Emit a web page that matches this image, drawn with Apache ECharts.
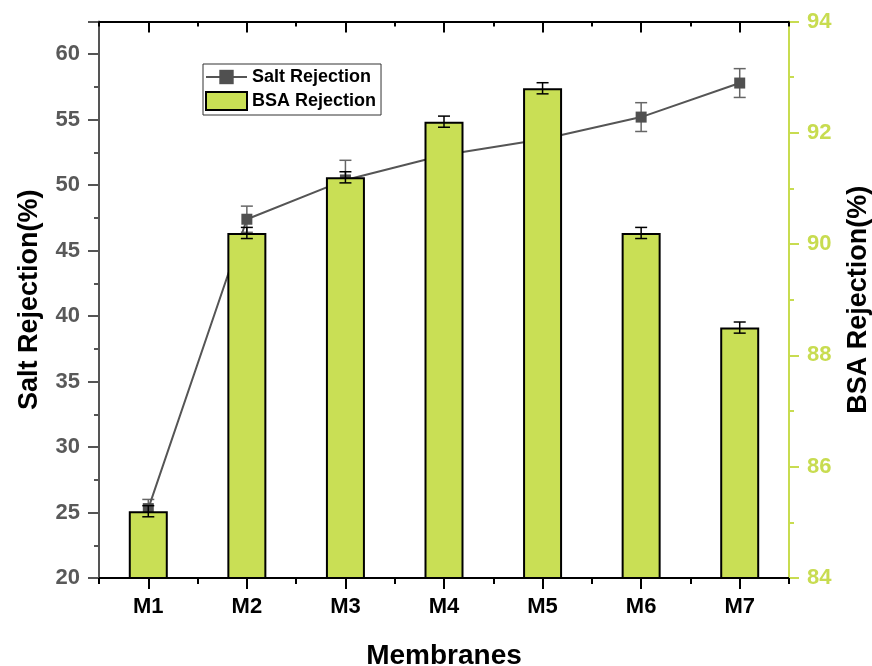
<!DOCTYPE html>
<html>
<head>
<meta charset="utf-8">
<script src="https://cdn.jsdelivr.net/npm/echarts@6/dist/echarts.min.js"></script>
<style>
html,body{margin:0;padding:0;background:#fff;}
#chart{width:872px;height:666px;}
</style>
</head>
<body>
<div id="chart"></div>
<script>
const categories = ['M1', 'M2', 'M3', 'M4', 'M5', 'M6', 'M7'];
const saltRejection = [25.3, 47.4, 50.4, 52.3, 53.5, 55.2, 57.8];
const saltError = [0.7, 1.0, 1.5, 1.0, 1.0, 1.1, 1.1];
const bsaRejection = [85.2, 90.2, 91.2, 92.2, 92.8, 90.2, 88.5];
const bsaError = [0.1, 0.1, 0.1, 0.1, 0.1, 0.1, 0.1];
const leftTicks = [20, 25, 30, 35, 40, 45, 50, 55, 60];
const rightTicks = [84, 86, 88, 90, 92, 94];

const FONT = '"Liberation Sans", Arial, sans-serif';
const GREEN = '#c8dc50';
const BAR = '#c9df55';

const saltErrData = categories.map((c, i) => [i, saltRejection[i] - saltError[i], saltRejection[i] + saltError[i]]);
const bsaErrData = categories.map((c, i) => [i, bsaRejection[i] - bsaError[i], bsaRejection[i] + bsaError[i]]);

function errRender(color) {
  return function (params, api) {
    const x = api.value(0);
    const lo = api.coord([x, api.value(1)]);
    const hi = api.coord([x, api.value(2)]);
    const h = 6;
    const st = { stroke: color, lineWidth: 1.5 };
    return {
      type: 'group',
      children: [
        { type: 'line', shape: { x1: lo[0], y1: lo[1], x2: hi[0], y2: hi[1] }, style: st },
        { type: 'line', shape: { x1: hi[0] - h, y1: hi[1], x2: hi[0] + h, y2: hi[1] }, style: st },
        { type: 'line', shape: { x1: lo[0] - h, y1: lo[1], x2: lo[0] + h, y2: lo[1] }, style: st }
      ]
    };
  };
}

const chart = echarts.init(document.getElementById('chart'), null, { renderer: 'canvas' });
const option = {
  animation: false,
  backgroundColor: '#fff',
  textStyle: { fontFamily: FONT },
  grid: { left: 99, right: 83, top: 21.5, bottom: 88, containLabel: false, outerBoundsMode: 'none' },
  legend: {
    orient: 'vertical',
    left: 203, top: 64,
    padding: [4, 5, 4, 2],
    itemWidth: 41, itemHeight: 18, itemGap: 5,
    borderColor: '#333', borderWidth: 1,
    textStyle: { fontFamily: FONT, fontWeight: 'bold', fontSize: 18, color: '#000' },
    data: [{ name: 'Salt Rejection' }, { name: 'BSA Rejection', icon: 'rect' }]
  },
  xAxis: [
    {
      type: 'category', data: categories, position: 'bottom', boundaryGap: true,
      axisLine: { show: true, onZero: false, lineStyle: { color: '#000', width: 2 } },
      axisTick: { show: true, alignWithLabel: true, length: 11, lineStyle: { color: '#000', width: 2 } },
      axisLabel: { margin: 18, fontFamily: FONT, fontWeight: 'bold', fontSize: 22, color: '#000' },
      splitLine: { show: false },
      name: 'Membranes', nameLocation: 'middle', nameGap: 64,
      nameTextStyle: { fontFamily: FONT, fontWeight: 'bold', fontSize: 28, color: '#000' }
    },
    {
      type: 'value', min: 0, max: 7, interval: 1, position: 'bottom',
      axisLine: { show: false, onZero: false },
      axisTick: { show: true, length: 6, lineStyle: { color: '#000', width: 2 } },
      axisLabel: { show: false }, splitLine: { show: false }
    },
    {
      type: 'category', data: categories, position: 'top', boundaryGap: true,
      axisLine: { show: true, onZero: false, lineStyle: { color: '#000', width: 2 } },
      axisTick: { show: true, inside: true, alignWithLabel: true, length: 11, lineStyle: { color: '#000', width: 2 } },
      axisLabel: { show: false }, splitLine: { show: false }
    },
    {
      type: 'value', min: 0, max: 7, interval: 1, position: 'top',
      axisLine: { show: false, onZero: false },
      axisTick: { show: true, inside: true, length: 5, lineStyle: { color: '#000', width: 2 } },
      axisLabel: { show: false }, splitLine: { show: false }
    }
  ],
  yAxis: [
    {
      type: 'value', min: 20, max: 62.5, interval: 5, position: 'left',
      axisLine: { show: true, onZero: false, lineStyle: { color: '#555', width: 2 } },
      axisTick: { show: true, length: 11, lineStyle: { color: '#555', width: 2 } },
      minorTick: { show: true, splitNumber: 2, length: 5, lineStyle: { color: '#555', width: 2 } },
      axisLabel: {
        margin: 19, fontFamily: FONT, fontWeight: 'bold', fontSize: 22, color: '#595959',
        showMaxLabel: false,
        formatter: v => (leftTicks.indexOf(v) >= 0 ? String(v) : '')
      },
      splitLine: { show: false },
      name: 'Salt Rejection(%)', nameLocation: 'middle', nameGap: 56, nameRotate: 90,
      nameTextStyle: { fontFamily: FONT, fontWeight: 'bold', fontSize: 27, color: '#000' }
    },
    {
      type: 'value', min: 84, max: 94, interval: 2, position: 'right',
      axisLine: { show: true, onZero: false, lineStyle: { color: GREEN, width: 2 } },
      axisTick: { show: true, length: 10, lineStyle: { color: GREEN, width: 2 } },
      minorTick: { show: true, splitNumber: 2, length: 5, lineStyle: { color: GREEN, width: 2 } },
      axisLabel: {
        margin: 18, fontFamily: FONT, fontWeight: 'bold', fontSize: 22, color: GREEN,
        formatter: v => (rightTicks.indexOf(v) >= 0 ? String(v) : '')
      },
      splitLine: { show: false },
      name: 'BSA Rejection(%)', nameLocation: 'middle', nameGap: 56, nameRotate: 90,
      nameTextStyle: { fontFamily: FONT, fontWeight: 'bold', fontSize: 27, color: '#000' }
    }
  ],
  series: [
    {
      name: 'Salt Rejection', type: 'line', xAxisIndex: 0, yAxisIndex: 0, z: 1,
      data: saltRejection,
      symbol: 'rect', symbolSize: 11,
      lineStyle: { color: '#555', width: 2 },
      itemStyle: { color: '#505050' }
    },
    {
      name: 'Salt Error', type: 'custom', xAxisIndex: 0, yAxisIndex: 0, z: 1,
      data: saltErrData, renderItem: errRender('#666'), encode: { x: 0, y: [1, 2] }
    },
    {
      name: 'BSA Rejection', type: 'bar', xAxisIndex: 0, yAxisIndex: 1, z: 2,
      data: bsaRejection, barWidth: 39,
      itemStyle: { color: BAR, borderColor: '#000', borderWidth: 2 }
    },
    {
      name: 'BSA Error', type: 'custom', xAxisIndex: 0, yAxisIndex: 1, z: 3,
      data: bsaErrData, renderItem: errRender('#000'), encode: { x: 0, y: [1, 2] }
    }
  ]
};
chart.setOption(option);
</script>
</body>
</html>
